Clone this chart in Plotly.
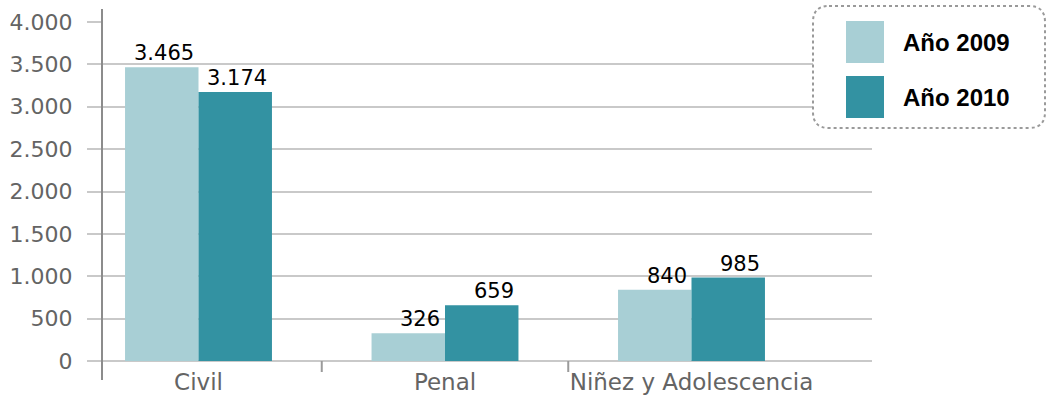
import plotly.graph_objects as go

# Data
categories = ["Civil", "Penal", "Niñez y Adolescencia"]
years = ["Año 2009", "Año 2010"]
values_2009 = [3465, 326, 840]
values_2010 = [3174, 659, 985]
series_colors = ["#a8cfd5", "#3392a2"]
y_ticks = [0, 500, 1000, 1500, 2000, 2500, 3000, 3500, 4000]

W, H = 1048, 398
M_L, M_R, M_T, M_B = 102, 176, 22, 37
PW, PH = W - M_L - M_R, H - M_T - M_B


def px_x(px):
    return (px - M_L) / PW


def px_y(py):
    return (H - M_B - py) / PH


def fmt(v):
    return f"{v:,}".replace(",", ".")


grid = "#c9c9c9"
label_grey = "#646464"
bar_w = 0.298

fig = go.Figure()
for name, vals, col in zip(years, [values_2009, values_2010], series_colors):
    fig.add_trace(go.Bar(
        x=list(range(len(categories))), y=vals, name=name,
        marker=dict(color=col, line=dict(width=0)),
        width=bar_w, showlegend=False, hoverinfo="skip",
    ))

annotations = []
# value labels, right-aligned near each bar's right edge
for k, vals in enumerate([values_2009, values_2010]):
    for i, v in enumerate(vals):
        right = i - bar_w + (k + 1) * bar_w
        annotations.append(dict(
            x=right - 0.012, y=v, xref="x", yref="y",
            text=fmt(v), showarrow=False, xanchor="right", yanchor="bottom",
            font=dict(family="DejaVu Sans", size=21, color="#000000"),
        ))

shapes = []
# vertical axis line
shapes.append(dict(type="line", xref="paper", yref="paper",
                   x0=0, x1=0, y0=px_y(9), y1=px_y(380),
                   line=dict(color="#8c8c8c", width=2)))
# category separators below the baseline
for b in [0.5, 1.5]:
    shapes.append(dict(type="line", xref="x", yref="paper",
                       x0=b, x1=b, y0=0, y1=px_y(372),
                       line=dict(color="#9a9a9a", width=2)))

# legend box with rounded dotted border
lx0, lx1, ly0, ly1, r = 813, 1045, 6, 128, 16
path = (
    f"M {px_x(lx0 + r)},{px_y(ly0)} L {px_x(lx1 - r)},{px_y(ly0)} "
    f"Q {px_x(lx1)},{px_y(ly0)} {px_x(lx1)},{px_y(ly0 + r)} "
    f"L {px_x(lx1)},{px_y(ly1 - r)} "
    f"Q {px_x(lx1)},{px_y(ly1)} {px_x(lx1 - r)},{px_y(ly1)} "
    f"L {px_x(lx0 + r)},{px_y(ly1)} "
    f"Q {px_x(lx0)},{px_y(ly1)} {px_x(lx0)},{px_y(ly1 - r)} "
    f"L {px_x(lx0)},{px_y(ly0 + r)} "
    f"Q {px_x(lx0)},{px_y(ly0)} {px_x(lx0 + r)},{px_y(ly0)} Z"
)
shapes.append(dict(type="path", xref="paper", yref="paper", path=path,
                   fillcolor="white", line=dict(color="#9a9a9a", width=2, dash="dot")))

for j, (name, col) in enumerate(zip(years, series_colors)):
    top = 21 + j * 55
    shapes.append(dict(type="rect", xref="paper", yref="paper",
                       x0=px_x(846), x1=px_x(884), y0=px_y(top), y1=px_y(top + 42),
                       fillcolor=col, line=dict(width=0)))
    annotations.append(dict(
        x=px_x(901), y=px_y(top + 21), xref="paper", yref="paper",
        text=f"<b>{name}</b>", showarrow=False, xanchor="left", yanchor="middle",
        font=dict(family="Liberation Sans", size=24, color="#000000"),
    ))

fig.update_layout(
    width=W, height=H,
    margin=dict(l=M_L, r=M_R, t=M_T, b=M_B, pad=0, autoexpand=False),
    paper_bgcolor="white", plot_bgcolor="white",
    separators=",.",
    barmode="group", bargap=0.404, bargroupgap=0,
    shapes=shapes, annotations=annotations,
    xaxis=dict(
        range=[(M_L - 198.5) / 246.5, (M_L + PW - 198.5) / 246.5],
        tickmode="array", tickvals=list(range(len(categories))), ticktext=categories,
        showgrid=False, zeroline=False, showline=False, ticks="",
        tickfont=dict(family="DejaVu Sans", size=23, color=label_grey),
        ticklabelstandoff=5, automargin=False,
    ),
    yaxis=dict(
        range=[0, 4000], tickmode="array", tickvals=y_ticks, tickformat=",d",
        showgrid=True, gridcolor=grid, gridwidth=2,
        zeroline=True, zerolinecolor=grid, zerolinewidth=2,
        showline=False, ticks="outside", ticklen=14, tickwidth=2, tickcolor=grid,
        tickfont=dict(family="DejaVu Sans", size=22, color=label_grey),
        ticklabelstandoff=10, automargin=False,
    ),
)

fig.write_html("out.html")
